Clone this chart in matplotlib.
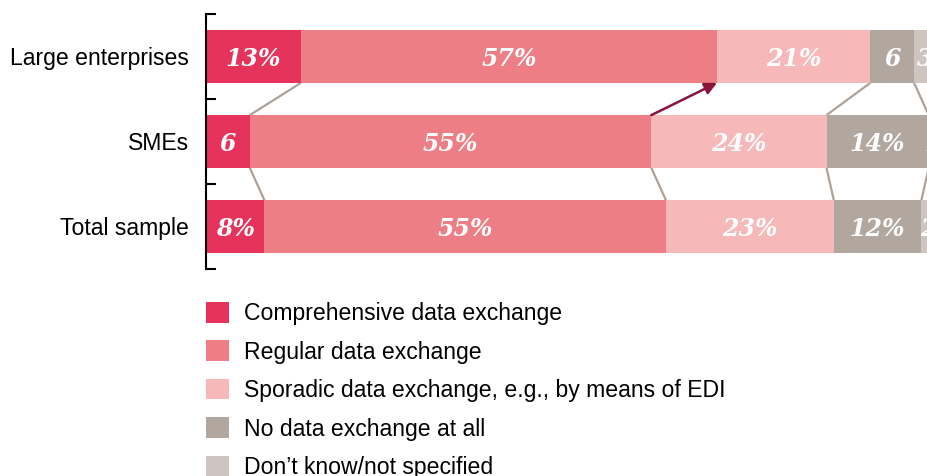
import matplotlib
matplotlib.use("Agg")
import matplotlib.pyplot as plt
from matplotlib.patches import Patch
import numpy as np

categories = ["Large enterprises", "SMEs", "Total sample"]
series_names = ["Comprehensive data exchange", "Regular data exchange",
                "Sporadic data exchange, e.g., by means of EDI",
                "No data exchange at all", "Don\u2019t know/not specified"]
values = {
    "Large enterprises": [13, 57, 21, 6, 3],
    "SMEs": [6, 55, 24, 14, 1],
    "Total sample": [8, 55, 23, 12, 2],
}
labels = {
    "Large enterprises": ["13%", "57%", "21%", "6", "3"],
    "SMEs": ["6", "55%", "24%", "14%", "1"],
    "Total sample": ["8%", "55%", "23%", "12%", "2"],
}
colors = ["#e6335c", "#ee7e85", "#f6b8b8", "#b1a79f", "#cec5c0"]

W, H = 927, 476
fig = plt.figure(figsize=(W / 100, H / 100), dpi=100)
ax = fig.add_axes([206 / W, (H - 269) / H, 730 / W, 255 / H])
ax.set_xlim(0, 100)
ax.set_ylim(2.5, -0.5)

bar_h = 0.62
y = np.arange(len(categories))
cums = []
for i, cat in enumerate(categories):
    vals = np.array(values[cat], dtype=float)
    left = np.concatenate([[0], np.cumsum(vals)[:-1]])
    cums.append(np.cumsum(vals))
    ax.barh(i, vals, left=left, height=bar_h, color=colors, edgecolor="none", zorder=2)
    for v, l, t in zip(vals, left, labels[cat]):
        ax.text(l + v / 2, i + 0.035, t, ha="center", va="center", color="white",
                fontfamily="DejaVu Serif", fontweight="bold", fontstyle="italic",
                fontsize=17, zorder=3, clip_on=False)

conn_color = "#ada198"
for i in range(len(categories) - 1):
    for k in range(len(series_names) - 1):
        x0 = cums[i][k]
        x1 = cums[i + 1][k]
        y0 = i + bar_h / 2
        y1 = i + 1 - bar_h / 2
        if i == 0 and k == 1:
            ax.annotate("", xy=(x0, y0), xytext=(x1, y1),
                        arrowprops=dict(arrowstyle="-|>", color="#8a1538", lw=1.8,
                                        mutation_scale=18, shrinkA=0, shrinkB=0),
                        zorder=4)
        else:
            ax.plot([x0, x1], [y0, y1], color=conn_color, lw=1.6, zorder=1,
                    solid_capstyle="butt")

for s in ["top", "right", "bottom"]:
    ax.spines[s].set_visible(False)
ax.spines["left"].set_linewidth(1.5)
ax.set_xticks([])
ax.set_yticks([-0.5, 0.5, 1.5, 2.5])
ax.set_yticklabels([])
ax.tick_params(axis="y", which="major", direction="in", length=7, width=1.5)
ax.set_yticks(y, minor=True)
ax.set_yticklabels(categories, minor=True, fontfamily="Liberation Sans", fontsize=16.6)
ax.tick_params(axis="y", which="minor", length=0, pad=12.5)

handles = [Patch(facecolor=c, edgecolor="none") for c in colors]
leg = fig.legend(handles, series_names, loc="upper left",
                 bbox_to_anchor=(206 / W, (H - 302) / H), frameon=False,
                 prop=dict(family="Liberation Sans", size=16.6),
                 handlelength=1.0, handleheight=1.0, handletextpad=0.65,
                 labelspacing=0.66, borderpad=0, borderaxespad=0)

fig.savefig("out.png", dpi=100)
